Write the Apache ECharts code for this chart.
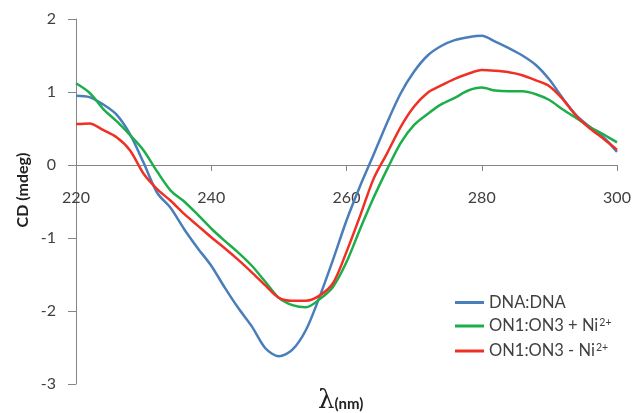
<!DOCTYPE html>
<html>
<head>
<meta charset="utf-8">
<script src="https://cdn.jsdelivr.net/npm/echarts@6/dist/echarts.min.js"></script>
<style>html,body{margin:0;padding:0;background:#fff;}#c{width:635px;height:413px;}</style>
</head>
<body>
<div id="c"></div>
<script>
var wavelengths = [220,222,224,226,228,230,232,234,236,238,240,242,244,246,248,250,252,254,256,258,260,262,264,266,268,270,272,274,276,278,280,282,284,286,288,290,292,294,296,298,300];
var dnaDna = [0.95,0.93,0.83,0.69,0.42,0.03,-0.38,-0.59,-0.88,-1.14,-1.38,-1.68,-1.96,-2.21,-2.51,-2.62,-2.53,-2.26,-1.81,-1.30,-0.76,-0.29,0.14,0.58,0.98,1.28,1.50,1.63,1.71,1.75,1.77,1.69,1.60,1.50,1.37,1.17,0.91,0.68,0.52,0.38,0.18];
var on1on3Plus = [1.12,0.99,0.77,0.60,0.41,0.20,-0.09,-0.35,-0.50,-0.68,-0.87,-1.04,-1.20,-1.38,-1.60,-1.82,-1.92,-1.95,-1.84,-1.67,-1.33,-0.88,-0.45,-0.06,0.30,0.55,0.70,0.83,0.92,1.02,1.06,1.02,1.01,1.01,0.97,0.89,0.76,0.64,0.52,0.42,0.31];
var on1on3Minus = [0.56,0.57,0.48,0.38,0.20,-0.12,-0.33,-0.49,-0.67,-0.83,-0.99,-1.14,-1.30,-1.47,-1.65,-1.82,-1.86,-1.86,-1.79,-1.62,-1.19,-0.70,-0.19,0.16,0.52,0.80,0.99,1.09,1.18,1.25,1.30,1.29,1.27,1.23,1.16,1.08,0.90,0.67,0.50,0.36,0.21];
var seriesNames = ['DNA:DNA', 'ON1:ON3 + Ni2+', 'ON1:ON3 - Ni2+'];
var seriesColors = ['#4A7EBB', '#1DAE4B', '#EE3124'];

var Y_MIN = -3, Y_MAX = 2;
var GRID_TOP = 19, GRID_BOTTOM = 29, H = 413;

function pairs(ys) { return wavelengths.map(function (x, i) { return [x, ys[i]]; }); }
var allY = [dnaDna, on1on3Plus, on1on3Minus];

var plotH = H - GRID_TOP - GRID_BOTTOM;
var zeroOffset = -plotH * (0 - Y_MIN) / (Y_MAX - Y_MIN);

var FONT = 'Lato';
var TXT = '#404040';
var chart = echarts.init(document.getElementById('c'), null, {renderer: 'canvas'});
chart.setOption({
  animation: false,
  backgroundColor: '#fff',
  grid: {left: 76, right: 18, top: GRID_TOP, bottom: GRID_BOTTOM, containLabel: false, outerBoundsMode: 'none'},
  xAxis: {
    type: 'value', min: 220, max: 300, interval: 20,
    position: 'bottom', offset: zeroOffset,
    axisLine: {onZero: false, lineStyle: {color: '#868686', width: 1}},
    axisTick: {show: true, length: 6, lineStyle: {color: '#868686'}},
    splitLine: {show: false},
    axisLabel: {margin: 25, color: TXT, fontFamily: FONT, fontSize: 16}
  },
  yAxis: {
    type: 'value', min: Y_MIN, max: Y_MAX, interval: 1,
    axisLine: {show: true, lineStyle: {color: '#868686', width: 1}},
    axisTick: {show: true, length: 8, lineStyle: {color: '#868686'}},
    splitLine: {show: false},
    axisLabel: {margin: 20, color: TXT, fontFamily: FONT, fontSize: 16}
  },
  legend: {
    orient: 'vertical', left: 450, top: 289,
    itemWidth: 29, itemHeight: 14, itemGap: 6,
    data: seriesNames.map(function (n, i) {
      return {name: n, icon: 'path://M0,0 L29,0 L29,3 L0,3 Z', itemStyle: {color: seriesColors[i]}};
    }),
    formatter: function (name) {
      if (name.indexOf('Ni2+') >= 0) {
        return '{t|' + name.replace('Ni2+', 'Ni') + '}{s|2+}';
      }
      return '{t|' + name + '}';
    },
    textStyle: {
      color: TXT, fontFamily: FONT, fontSize: 16,
      rich: {
        t: {color: TXT, fontFamily: FONT, fontSize: 16.5, lineHeight: 18},
        s: {color: TXT, fontFamily: FONT, fontSize: 10.5, lineHeight: 18, verticalAlign: 'top', padding: [0, 0, 8, 1]}
      }
    }
  },
  graphic: [
    {type: 'text', x: 23, y: 190, rotation: Math.PI / 2,
      style: {text: 'CD (mdeg)', fill: '#222', font: 'bold 16px Lato', align: 'center', verticalAlign: 'middle'}},
    {type: 'text', x: 318, y: 388,
      style: {rich: {l: {font: '26px "DejaVu Serif"', fill: '#222'}, n: {font: 'bold 15px Lato', fill: '#222', padding: [6, 0, 0, 0]}},
        text: '{l|λ}{n|(nm)}', fill: '#222'}}
  ],
  series: allY.map(function (ys, i) {
    return {
      name: seriesNames[i], type: 'line', data: pairs(ys),
      smooth: 0.3, showSymbol: false, symbol: 'none',
      lineStyle: {color: seriesColors[i], width: 2.5},
      itemStyle: {color: seriesColors[i]}
    };
  })
});
</script>
</body>
</html>
